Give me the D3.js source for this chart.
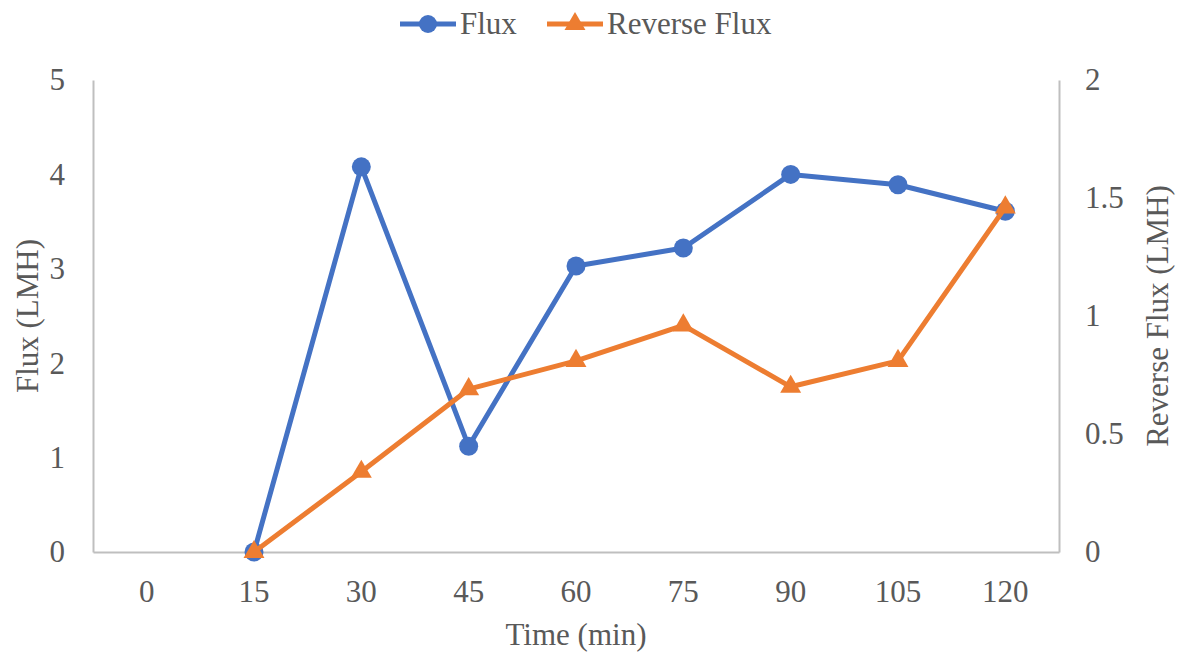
<!DOCTYPE html>
<html>
<head>
<meta charset="utf-8">
<script src="https://cdn.jsdelivr.net/npm/d3@7"></script>
<style>
  html, body { margin: 0; padding: 0; background: #fff; }
</style>
</head>
<body>
<svg id="chart" width="1182" height="654"></svg>
<script>
// Sampling times (min)
const times = ["0", "15", "30", "45", "60", "75", "90", "105", "120"];
// Flux (LMH), no reading at t = 0
const flux = [null, 0, 4.08, 1.12, 3.03, 3.22, 4.0, 3.89, 3.61];
// Reverse flux (LMH), no reading at t = 0
const reverseFlux = [null, 0, 0.34, 0.69, 0.81, 0.96, 0.70, 0.81, 1.46];
// Axis ticks
const leftTicks = [0, 1, 2, 3, 4, 5];
const rightTicks = [0, 0.5, 1, 1.5, 2];

const blue = "#4472C4";
const orange = "#ED7D31";
const axisGrey = "#BFBFBF";
const textGrey = "#595959";
const fontFamily = "'Liberation Serif', 'Times New Roman', 'DejaVu Serif', serif";
const fontSize = 31;

const svg = d3.select("#chart")
  .style("font-family", fontFamily);
const plotLeft = 93, plotRight = 1059, plotTop = 80, plotBottom = 552;

const x = d3.scaleBand().domain(times).range([plotLeft, plotRight]).padding(0);
const yL = d3.scaleLinear().domain([0, 5]).range([plotBottom, plotTop]);
const yR = d3.scaleLinear().domain([0, 2]).range([plotBottom, plotTop]);
const cx = t => x(t) + x.bandwidth() / 2;

// Axes (lines only, no tick marks)
const axisL = d3.axisLeft(yL).tickValues(leftTicks).tickSize(0).tickPadding(28).tickFormat(d3.format("d"));
const axisR = d3.axisRight(yR).tickValues(rightTicks).tickSize(0).tickPadding(26).tickFormat(d => String(d));
const axisB = d3.axisBottom(x).tickSize(0).tickPadding(28);

function styleAxis(g) {
  g.attr("font-family", null).attr("font-size", null);
  g.select(".domain").attr("stroke", axisGrey).attr("stroke-width", 2);
  g.selectAll("text").style("font-family", fontFamily).style("font-size", fontSize + "px").attr("fill", textGrey);
}

svg.append("g").attr("transform", `translate(${plotLeft},0)`).call(axisL).call(styleAxis);
svg.append("g").attr("transform", `translate(${plotRight},0)`).call(axisR).call(styleAxis);
svg.append("g").attr("transform", `translate(0,${plotBottom})`).call(axisB).call(styleAxis);

function label(sel) {
  return sel.style("font-family", fontFamily).style("font-size", fontSize + "px").attr("fill", textGrey);
}

// Axis titles
svg.append("text").attr("x", 576).attr("y", 645).attr("text-anchor", "middle")
  .call(label).text("Time (min)");
svg.append("text").attr("transform", `translate(38,316) rotate(-90)`).attr("text-anchor", "middle")
  .call(label).text("Flux (LMH)");
svg.append("text").attr("transform", `translate(1168,316) rotate(-90)`).attr("text-anchor", "middle")
  .call(label).text("Reverse Flux (LMH)");

// Series
const fluxData = times.map((t, i) => ({ t, v: flux[i] })).filter(d => d.v !== null);
const revData = times.map((t, i) => ({ t, v: reverseFlux[i] })).filter(d => d.v !== null);

const triangle = d3.symbol().type(d3.symbolTriangle).size(190);

svg.append("path").datum(fluxData)
  .attr("fill", "none").attr("stroke", blue).attr("stroke-width", 5).attr("stroke-linejoin", "round")
  .attr("d", d3.line().x(d => cx(d.t)).y(d => yL(d.v)));
svg.append("g").selectAll("circle").data(fluxData).join("circle")
  .attr("cx", d => cx(d.t)).attr("cy", d => yL(d.v)).attr("r", 9.5).attr("fill", blue);

svg.append("path").datum(revData)
  .attr("fill", "none").attr("stroke", orange).attr("stroke-width", 5).attr("stroke-linejoin", "round")
  .attr("d", d3.line().x(d => cx(d.t)).y(d => yR(d.v)));
svg.append("g").selectAll("path").data(revData).join("path")
  .attr("transform", d => `translate(${cx(d.t)},${yR(d.v)})`).attr("d", triangle).attr("fill", orange);

// Legend
const legend = svg.append("g");
const legendItems = [
  { name: "Flux", color: blue, x0: 400, shape: "circle" },
  { name: "Reverse Flux", color: orange, x0: 547, shape: "triangle" }
];
legendItems.forEach(it => {
  const g = legend.append("g");
  g.append("line").attr("x1", it.x0).attr("x2", it.x0 + 56).attr("y1", 24).attr("y2", 24)
    .attr("stroke", it.color).attr("stroke-width", 5);
  if (it.shape === "circle") {
    g.append("circle").attr("cx", it.x0 + 28).attr("cy", 24).attr("r", 9).attr("fill", it.color);
  } else {
    g.append("path").attr("transform", `translate(${it.x0 + 28},24)`).attr("d", triangle).attr("fill", it.color);
  }
  g.append("text").attr("x", it.x0 + 60).attr("y", 34).call(label).text(it.name);
});
</script>
</body>
</html>
